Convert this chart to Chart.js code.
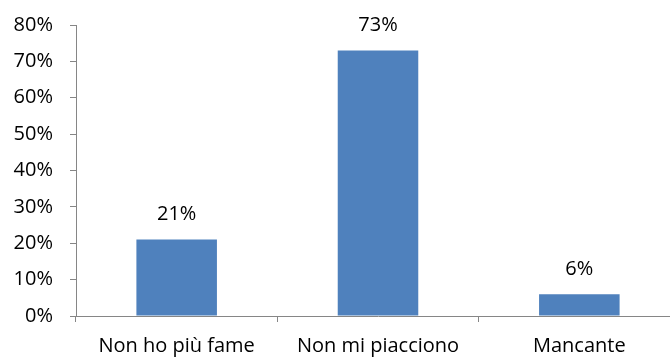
<!DOCTYPE html>
<html>
<head>
<meta charset="utf-8">
<script src="https://cdn.jsdelivr.net/npm/chart.js@4"></script>
<style>
  html, body { margin: 0; padding: 0; background: #fff; overflow: hidden; }
  #wrap { width: 680px; height: 358px; }
</style>
</head>
<body>
<div id="wrap"><canvas id="chart" width="680" height="358"></canvas></div>
<script>
// categories and values (percent)
var categories = ["Non ho più fame", "Non mi piacciono", "Mancante"];
var values = [21, 73, 6];
var yTicks = [0, 10, 20, 30, 40, 50, 60, 70, 80];

var fontFamily = "'Open Sans', sans-serif";
var axisColor = "#868686";

// draws value labels above the bars
var valueLabels = {
    id: "valueLabels",
    afterDatasetsDraw: function(chart) {
        var ctx = chart.ctx;
        var meta = chart.getDatasetMeta(0);
        ctx.save();
        ctx.font = "20px " + fontFamily;
        ctx.fillStyle = "#000";
        ctx.textAlign = "center";
        ctx.textBaseline = "middle";
        for (var i = 0; i < meta.data.length; i++) {
            var bar = meta.data[i];
            ctx.fillText(values[i] + "%", bar.x, bar.y - 25);
        }
        ctx.restore();
    }
};

var ctx = document.getElementById("chart").getContext("2d");
var chart = new Chart(ctx, {
    type: "bar",
    data: {
        labels: categories,
        datasets: [{
            data: values,
            backgroundColor: "#4F81BD",
            barPercentage: 0.4,
            categoryPercentage: 1
        }]
    },
    options: {
        responsive: false,
        animation: false,
        layout: { padding: { top: 25, right: 0, left: 0, bottom: 0 } },
        plugins: {
            legend: { display: false },
            tooltip: { enabled: false }
        },
        scales: {
            x: {
                grid: {
                    display: true,
                    drawOnChartArea: false,
                    drawTicks: true,
                    tickLength: 6,
                    color: axisColor
                },
                border: { color: axisColor, width: 1 },
                ticks: {
                    color: "#000",
                    font: { family: fontFamily, size: 20 },
                    padding: 12,
                    maxRotation: 0
                },
                afterFit: function(scale) {
                    scale.height = 42;
                    scale.paddingLeft = 0;
                    scale.paddingRight = 0;
                }
            },
            y: {
                min: 0,
                max: 80,
                afterBuildTicks: function(scale) {
                    scale.ticks = yTicks.map(function(v) { return { value: v }; });
                },
                grid: {
                    display: true,
                    drawOnChartArea: false,
                    drawTicks: true,
                    tickLength: 6,
                    color: axisColor
                },
                border: { color: axisColor, width: 1 },
                ticks: {
                    color: "#000",
                    font: { family: fontFamily, size: 20 },
                    padding: 17,
                    callback: function(v) { return v + "%"; }
                },
                afterFit: function(scale) {
                    scale.width = 76;
                    scale.paddingTop = 0;
                    scale.paddingBottom = 0;
                }
            }
        }
    },
    plugins: [valueLabels]
});
</script>
</body>
</html>
